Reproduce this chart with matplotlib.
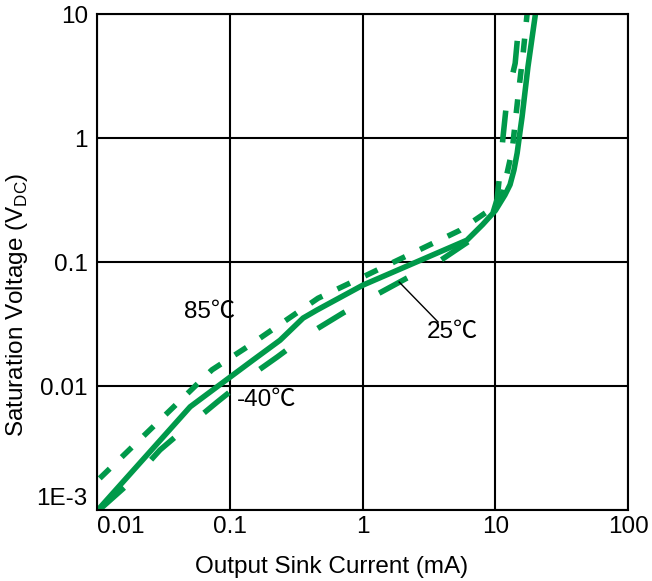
import matplotlib
matplotlib.use("Agg")
import matplotlib.pyplot as plt

plt.rcParams["font.family"] = ["Liberation Sans", "Noto Sans CJK SC", "DejaVu Sans"]
plt.rcParams["mathtext.fontset"] = "custom"
plt.rcParams["mathtext.rm"] = "Liberation Sans"
plt.rcParams["lines.scale_dashes"] = False

GREEN = "#00994a"
FS = 17.5

# 25 C (solid)
i_25 = [0.0104, 0.05, 0.149, 0.238, 0.355, 0.452, 1.0, 6.1, 8.0, 10.0, 11.8, 12.9, 13.8,
        14.6, 15.4, 15.9, 17.6, 20.3]
v_25 = [0.00104, 0.0068, 0.0162, 0.0234, 0.0353, 0.041, 0.065, 0.15, 0.2, 0.26, 0.347, 0.42,
        0.55, 0.757, 1.16, 1.48, 3.74, 11.0]

# 85 C (short dash)
i_85 = [0.0104, 0.073, 0.134, 0.46, 1.0, 5.4, 8.6, 10.0, 11.4, 13.4, 14.8, 16.2, 17.5]
v_85 = [0.0018, 0.0135, 0.0206, 0.051, 0.0757, 0.18, 0.253, 0.28, 0.367, 0.80, 2.14, 4.84, 11.0]

# -40 C (long dash)
i_m40 = [0.0105, 0.0185, 0.0296, 0.0473, 0.0796, 0.129, 0.226, 0.38, 0.71, 1.13, 2.16, 3.7,
         6.5, 9.6, 10.3, 10.8, 11.4, 12.25, 14.1, 15.4]
v_m40 = [0.00102, 0.00175, 0.00305, 0.00467, 0.0074, 0.0112, 0.0171, 0.0258, 0.0388, 0.051,
         0.0743, 0.1, 0.15, 0.25, 0.32, 0.52, 1.0, 2.1, 4.0, 11.0]

x_ticks = [0.01, 0.1, 1, 10, 100]
x_labels = ["0.01", "0.1", "1", "10", "100"]
y_ticks = [0.001, 0.01, 0.1, 1, 10]
y_labels = ["1E-3", "0.01", "0.1", "1", "10"]

fig = plt.figure(figsize=(6.52, 5.81), dpi=100)
ax = fig.add_axes([0.1495, 0.1222, 0.8137, 0.8537])

ax.plot(i_85, v_85, color=GREEN, lw=4, dashes=(10, 12), solid_capstyle="butt")
ax.plot(i_m40, v_m40, color=GREEN, lw=4, dashes=(23, 28), solid_capstyle="butt")
ax.plot(i_25, v_25, color=GREEN, lw=4)

ax.set_xscale("log")
ax.set_yscale("log")
ax.set_xlim(0.01, 100)
ax.set_ylim(0.001, 10)
ax.set_xticks(x_ticks)
ax.set_xticklabels(x_labels)
ax.set_yticks(y_ticks)
ax.set_yticklabels(y_labels)
ax.minorticks_off()
ax.tick_params(length=0, labelsize=FS)
ax.tick_params(axis="x", pad=4)
ax.tick_params(axis="y", pad=7)
# keep the corner labels apart, as in the original
ax.get_xticklabels()[0].set_horizontalalignment("left")
ax.get_yticklabels()[0].set_verticalalignment("bottom")
ax.grid(True, color="black", lw=1.5)
ax.set_axisbelow(True)
for s in ax.spines.values():
    s.set_linewidth(1.5)

ax.set_xlabel("Output Sink Current (mA)", fontsize=FS)
ax.set_ylabel(r"Saturation Voltage (V$_{\mathrm{DC}}$)", fontsize=FS)
ax.xaxis.set_label_coords(0.442, -0.092)
ax.yaxis.set_label_coords(-0.128, 0.413)

ax.text(0.0705, 0.0395, "85℃", fontsize=FS, ha="center", va="center")
ax.text(0.113, 0.0077, "-40℃", fontsize=FS, ha="left", va="center")
ax.text(4.7, 0.0272, "25℃", fontsize=FS, ha="center", va="center")
ax.plot([1.88, 3.7], [0.069, 0.0328], color="black", lw=1)

fig.savefig("out.png", dpi=100)
